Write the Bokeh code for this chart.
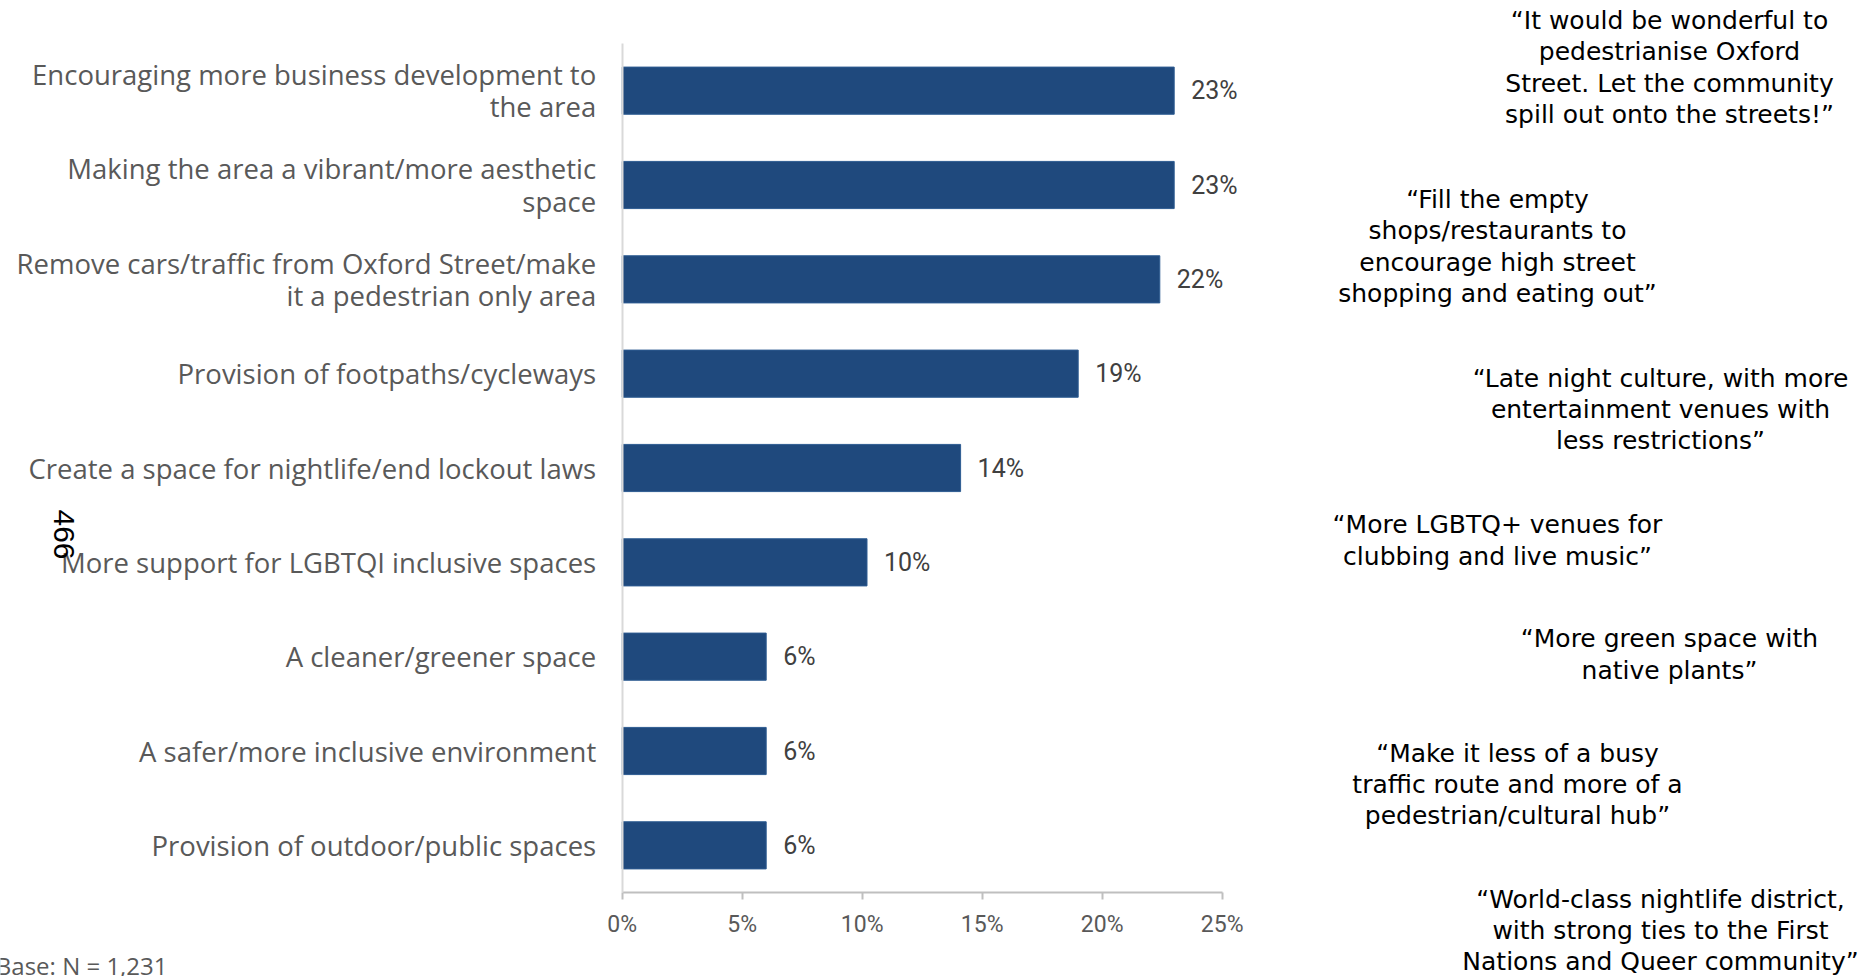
from bokeh.plotting import figure
from bokeh.models import (ColumnDataSource, Range1d, FixedTicker, LinearAxis,
                          PrintfTickFormatter, LabelSet, Label)
from bokeh.core.properties import value
from bokeh.embed import file_html
from bokeh.resources import INLINE
import math

# ---------------- data ----------------
categories = [
    "Encouraging more business development to\nthe area",
    "Making the area a vibrant/more aesthetic\nspace",
    "Remove cars/traffic from Oxford Street/make\nit a pedestrian only area",
    "Provision of footpaths/cycleways",
    "Create a space for nightlife/end lockout laws",
    "More support for LGBTQI inclusive spaces",
    "A cleaner/greener space",
    "A safer/more inclusive environment",
    "Provision of outdoor/public spaces",
]
values = [23.0, 23.0, 22.4, 19.0, 14.1, 10.2, 6.0, 6.0, 6.0]
value_labels = [f"{v:.0f}%" for v in values]
x_ticks = [0, 5, 10, 15, 20, 25]

quotes = [
    "\u201cIt would be wonderful to\npedestrianise Oxford\nStreet. Let the community\nspill out onto the streets!\u201d",
    "\u201cFill the empty\nshops/restaurants to\nencourage high street\nshopping and eating out\u201d",
    "\u201cLate night culture, with more\nentertainment venues with\nless restrictions\u201d",
    "\u201cMore LGBTQ+ venues for\nclubbing and live music\u201d",
    "\u201cMore green space with\nnative plants\u201d",
    "\u201cMake it less of a busy\ntraffic route and more of a\npedestrian/cultural hub\u201d",
    "\u201cWorld-class nightlife district,\nwith strong ties to the First\nNations and Queer community\u201d",
]
# quote block centres in page pixels (layout only)
quote_pos = [(1669, 67), (1497, 246), (1660, 409), (1497, 540),
             (1669, 654), (1517, 784), (1660, 930)]

base_note = "Base: N = 1,231"
side_number = "466"

# ---------------- layout constants (pixels) ----------------
W, H = 1868, 976
X0_PX, PX_PER_UNIT = 621.7, 24.0          # where 0% sits, px per 1%
TOP_PX, BOT_PX = 43.0, 892.0              # category band region
n = len(categories)
BAND = (BOT_PX - TOP_PX) / n

y_pos = [n - 1 - i for i in range(n)]     # first category at top

x_start = -X0_PX / PX_PER_UNIT
x_end = x_start + W / PX_PER_UNIT
y_top = (n - 0.5) + TOP_PX / BAND
y_bot = -0.5 - (H - BOT_PX) / BAND


def sx(px):
    return px


def sy(py):
    return H - py


p = figure(
    width=W, height=H,
    x_range=Range1d(x_start, x_end), y_range=Range1d(y_bot, y_top),
    x_axis_type=None, y_axis_type=None,
    min_border=0, min_border_left=0, min_border_right=0,
    min_border_top=0, min_border_bottom=0,
    output_backend="svg", toolbar_location=None,
    background_fill_color="white", border_fill_color="white",
)
p.outline_line_color = None
p.grid.visible = False

src = ColumnDataSource(dict(y=y_pos, val=values, lab=value_labels))
p.hbar(y="y", right="val", left=0, height=0.5, source=src,
       fill_color="#1F497D", line_color="#2E5C92", line_width=1)

p.add_layout(LabelSet(x="val", y="y", text="lab", source=src,
                      x_offset=17, text_baseline="middle", text_align="left",
                      text_font=value("Roboto"), text_font_size=value("25px"),
                      text_color=value("#404040")))

# x axis (fixed at the bottom of the category bands)
xaxis = LinearAxis(fixed_location=-0.5, bounds=(0, 25),
                   ticker=FixedTicker(ticks=x_ticks),
                   formatter=PrintfTickFormatter(format="%d%%"))
xaxis.axis_line_color = "#BFBFBF"
xaxis.axis_line_width = 2
xaxis.major_tick_line_color = "#BFBFBF"
xaxis.major_tick_line_width = 2
xaxis.major_tick_out = 7
xaxis.major_tick_in = 0
xaxis.minor_tick_line_color = None
xaxis.major_label_text_font = "Roboto"
xaxis.major_label_text_font_size = "23px"
xaxis.major_label_text_color = "#595959"
xaxis.major_label_standoff = 11
p.add_layout(xaxis, "below")

# y axis (fixed at 0%)
yaxis = LinearAxis(fixed_location=0, bounds=(-0.5, n - 0.5),
                   ticker=FixedTicker(ticks=y_pos),
                   major_label_overrides={float(yv): c for yv, c in zip(y_pos, categories)})
yaxis.axis_line_color = "#D9D9D9"
yaxis.axis_line_width = 2
yaxis.major_tick_line_color = None
yaxis.minor_tick_line_color = None
yaxis.major_tick_out = 0
yaxis.major_tick_in = 0
yaxis.major_label_standoff = 26
yaxis.major_label_text_font = "Open Sans"
yaxis.major_label_text_font_size = "27.5px"
yaxis.major_label_text_color = "#595959"
yaxis.major_label_text_line_height = 0.87
p.add_layout(yaxis, "left")

# quotes
for q, (qx, qy) in zip(quotes, quote_pos):
    p.add_layout(Label(x=sx(qx), y=sy(qy), x_units="screen", y_units="screen",
                       text=q, text_align="center", text_baseline="middle",
                       text_font="DejaVu Sans", text_font_size="25px",
                       text_color="#000000", text_line_height=1.086))

p.add_layout(Label(x=sx(63), y=sy(534), x_units="screen", y_units="screen",
                   text=side_number, angle=-math.pi / 2,
                   text_align="center", text_baseline="middle",
                   text_font="Liberation Sans", text_font_size="30px",
                   text_color="#000000"))

p.add_layout(Label(x=sx(167), y=sy(965), x_units="screen", y_units="screen",
                   text=base_note, text_align="right", text_baseline="middle",
                   text_font="Open Sans", text_font_size="24px",
                   text_color="#595959"))

open("out.html", "w").write(file_html(p, INLINE))
